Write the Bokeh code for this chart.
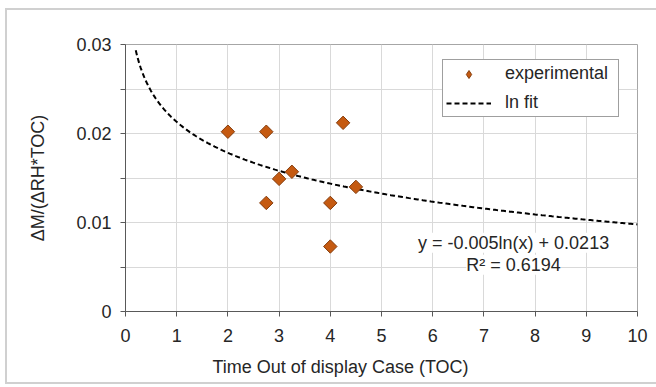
import math

import numpy as np
from bokeh.embed import file_html
from bokeh.models import (ColumnDataSource, FixedTicker, InlineStyleSheet, Label,
                          Legend, LegendItem, Title)
from bokeh.plotting import figure
from bokeh.resources import INLINE

# Measured moisture-gain ratio against time out of the display case
toc = [2.0, 2.75, 4.25, 3.25, 3.0, 4.5, 2.75, 4.0, 4.0]
dm_ratio = [0.0202, 0.0202, 0.0212, 0.0157, 0.0149, 0.0140, 0.0122, 0.0122, 0.0073]

# Logarithmic trendline y = a*ln(x) + b
fit_slope = -0.005
fit_intercept = 0.0213
fit_r2 = 0.6194
fit_x_min = 0.2
fit_x_max = 10.0

x_ticks = list(range(0, 11))
y_ticks = [0, 0.01, 0.02, 0.03]
y_tick_labels = ["0", "0.01", "0.02", "0.03"]
y_minor_ticks = [0.005, 0.015, 0.025]

x_title = "Time Out of display Case (TOC)"
y_title = "ΔM/(ΔRH*TOC)"

FONT = "Liberation Sans"
TEXT = "#262626"
GRID = "#d9d9d9"
AXIS = "#595959"
MARKER_FILL = "#c55a11"
MARKER_LINE = "#843c0c"

p = figure(
    width=656, height=387,
    x_range=(0, 10), y_range=(0, 0.03),
    output_backend="svg", toolbar_location=None,
    min_border_left=125, min_border_right=19,
    min_border_top=44, min_border_bottom=75,
)
p.background_fill_color = "white"
p.border_fill_color = "white"
p.outline_line_color = "#a6a6a6"
p.outline_line_width = 1

# Light frame around the whole chart area
p.stylesheets = [InlineStyleSheet(css="""
:host { position: relative; }
:host::after {
  content: ""; position: absolute; pointer-events: none; z-index: 10;
  left: 5px; top: 8px; width: 651px; height: 376px;
  border-left: 2px solid #d0d0d0; border-top: 2px solid #d0d0d0;
  border-bottom: 2px solid #d0d0d0; box-sizing: border-box;
}
""")]

# Axes
p.xaxis.ticker = FixedTicker(ticks=x_ticks)
p.yaxis.ticker = FixedTicker(ticks=y_ticks, minor_ticks=y_minor_ticks)
p.yaxis.major_label_overrides = dict(zip(y_ticks, y_tick_labels))
for ax in (p.xaxis, p.yaxis):
    ax.axis_line_color = AXIS
    ax.axis_line_width = 1
    ax.major_tick_line_color = AXIS
    ax.minor_tick_line_color = AXIS
    ax.major_tick_in = 0
    ax.major_tick_out = 5
    ax.major_label_text_font = FONT
    ax.major_label_text_font_size = "18px"
    ax.major_label_text_color = TEXT
p.xaxis.major_label_standoff = 12
p.yaxis.major_label_standoff = 9
p.xaxis.minor_tick_out = 0
p.xaxis.minor_tick_in = 0
p.yaxis.minor_tick_in = 0
p.yaxis.minor_tick_out = 5

# Axis titles
p.yaxis.axis_label = y_title
p.yaxis.axis_label_standoff = 25
p.yaxis.axis_label_text_font = FONT
p.yaxis.axis_label_text_font_size = "18px"
p.yaxis.axis_label_text_font_style = "normal"
p.yaxis.axis_label_text_color = TEXT

p.add_layout(Title(text=x_title, offset=87, standoff=21, text_font=FONT,
                   text_font_size="18px", text_font_style="normal",
                   text_color=TEXT, align="left"), "below")

# Grid
p.xgrid.ticker = FixedTicker(ticks=x_ticks)
p.ygrid.ticker = FixedTicker(ticks=y_ticks, minor_ticks=y_minor_ticks)
p.xgrid.grid_line_color = GRID
p.ygrid.grid_line_color = GRID
p.ygrid.minor_grid_line_color = GRID

# Trendline curve
fit_x = np.linspace(fit_x_min, fit_x_max, 300)
fit_y = fit_slope * np.log(fit_x) + fit_intercept
fit = p.line(fit_x, fit_y, line_color="black", line_width=2, line_dash="5 3")

# Measurements as diamonds (rotated squares)
src = ColumnDataSource(dict(toc=toc, dm=dm_ratio))
pts = p.scatter("toc", "dm", source=src, marker="square", size=9.5, angle=math.pi / 4,
                fill_color=MARKER_FILL, line_color=MARKER_LINE, line_width=1)
# Legend swatch: legend glyphs are never rotated, so use the diamond marker there
pts_key = p.scatter("toc", "dm", source=src, marker="diamond", size=16,
                    fill_color=MARKER_FILL, line_color=MARKER_LINE, line_width=1,
                    visible=False)

legend = Legend(
    items=[LegendItem(label="experimental", renderers=[pts_key]),
           LegendItem(label="ln fit", renderers=[fit])],
    location=(317, 194),
    border_line_color="#404040", border_line_width=1,
    background_fill_color="white", background_fill_alpha=1,
    inactive_fill_alpha=0,
    label_text_font=FONT, label_text_font_size="18px", label_text_color=TEXT,
    glyph_width=45, glyph_height=20, label_height=20, label_width=110,
    label_standoff=14, padding=3, spacing=8, margin=0,
)
p.add_layout(legend)

# Trendline equation
eq_style = dict(text_font=FONT, text_font_size="18px", text_color=TEXT,
                text_align="center", text_baseline="middle",
                background_fill_color="white", background_fill_alpha=1.0)
p.add_layout(Label(x=7.58, y=0.00772,
                   text=f"y = {fit_slope}ln(x) + {fit_intercept}", **eq_style))
p.add_layout(Label(x=7.58, y=0.00526, text=f"R² = {fit_r2}", **eq_style))

open("out.html", "w").write(file_html(p, INLINE))
